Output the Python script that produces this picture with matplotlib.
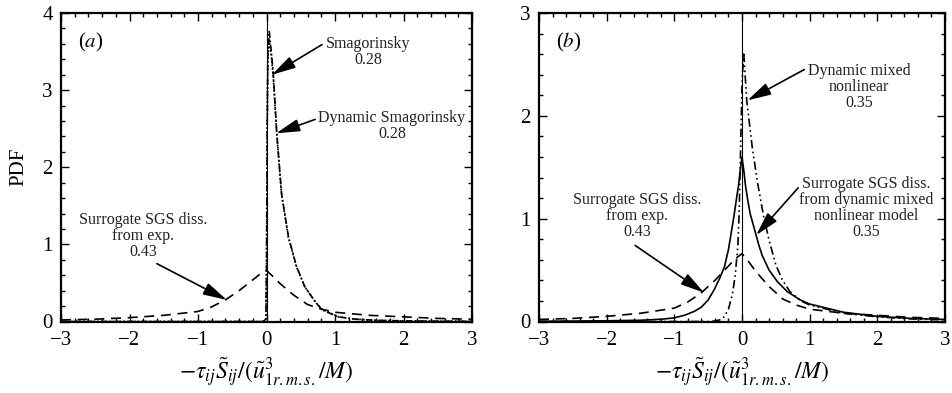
import matplotlib
matplotlib.use("Agg")
import matplotlib.pyplot as plt
from matplotlib.ticker import MultipleLocator

plt.rcParams['font.family'] = ['Liberation Serif', 'DejaVu Serif']
plt.rcParams['mathtext.fontset'] = 'stix'

# ---- data ----
exp_x = [-3, -2.5, -2, -1.5, -1, -0.8, -0.6, -0.4, -0.2, -0.1, 0, 0.1, 0.2, 0.4, 0.6, 0.8, 1.0, 1.5, 2, 2.5, 3]
exp_y = [0.02, 0.03, 0.05, 0.08, 0.13, 0.19, 0.28, 0.40, 0.54, 0.61, 0.66, 0.58, 0.49, 0.34, 0.22, 0.16, 0.12, 0.08, 0.06, 0.04, 0.03]

smag_x = [-3, -0.05, -0.01, 0.0, 0.01, 0.02, 0.04, 0.07, 0.10, 0.15, 0.22, 0.32, 0.44, 0.56, 0.70, 0.81, 1.05, 1.3, 1.6, 2.0, 2.5, 3]
smag_y = [0, 0, 0.03, 0.6, 2.5, 3.5, 3.76, 3.5, 3.2, 2.44, 1.66, 1.10, 0.71, 0.45, 0.27, 0.15, 0.06, 0.03, 0.015, 0.008, 0.004, 0.002]

dsmag_x = [-3, -0.05, -0.01, 0.0, 0.01, 0.02, 0.04, 0.07, 0.10, 0.15, 0.22, 0.32, 0.44, 0.56, 0.70, 0.81, 1.05, 1.3, 1.6, 2.0, 2.5, 3]
dsmag_y = [0, 0, 0.03, 0.7, 2.6, 3.4, 3.65, 3.45, 3.15, 2.42, 1.64, 1.09, 0.70, 0.45, 0.27, 0.16, 0.06, 0.03, 0.015, 0.008, 0.004, 0.002]

dmnl_x = [-3, -0.5, -0.4, -0.3, -0.26, -0.2, -0.14, -0.1, -0.06, -0.04, -0.02, 0.0, 0.025, 0.07, 0.15, 0.23, 0.32, 0.40, 0.5, 0.6, 0.71, 0.87, 1.0, 1.5, 2.0, 2.5, 3]
dmnl_y = [0, 0, 0.005, 0.02, 0.05, 0.12, 0.27, 0.45, 0.75, 1.1, 1.7, 2.3, 2.62, 2.15, 1.7, 1.35, 1.02, 0.79, 0.55, 0.40, 0.29, 0.20, 0.16, 0.08, 0.045, 0.025, 0.015]

sdm_x = [-3, -2.5, -2, -1.5, -1.2, -1.0, -0.84, -0.7, -0.6, -0.5, -0.41, -0.33, -0.26, -0.2, -0.16, -0.12, -0.08, -0.05, -0.03, 0,
         0.03, 0.05, 0.08, 0.12, 0.2, 0.25, 0.3, 0.4, 0.52, 0.67, 0.86, 1.0, 1.5, 2, 2.5, 3]
sdm_y = [0.002, 0.004, 0.007, 0.012, 0.022, 0.035, 0.063, 0.10, 0.14, 0.21, 0.31, 0.42, 0.53, 0.70, 0.86, 1.02, 1.2, 1.33, 1.45, 1.6,
         1.45, 1.33, 1.2, 1.05, 0.86, 0.74, 0.64, 0.50, 0.39, 0.29, 0.21, 0.17, 0.09, 0.05, 0.03, 0.02]

xticks = [-3, -2, -1, 0, 1, 2, 3]
yticks_a = [0, 1, 2, 3, 4]
yticks_b = [0, 1, 2, 3]

fig = plt.figure(figsize=(9.52, 3.93), dpi=100)
axa = fig.add_axes([61/952, 1-321.5/393, 411/952, 308.5/393])
axb = fig.add_axes([539/952, 1-321.5/393, 406/952, 308.5/393])

txtc = '#222222'
lw = 1.2

def style(ax, yt, ymax):
    ax.set_xlim(-3, 3)
    ax.set_ylim(0, ymax)
    ax.set_xticks(xticks)
    ax.set_xticklabels(['\u22123', '\u22122', '\u22121', '0', '1', '2', '3'])
    ax.set_yticks(yt)
    ax.xaxis.set_minor_locator(MultipleLocator(0.2))
    ax.yaxis.set_minor_locator(MultipleLocator(0.2))
    ax.tick_params(which='both', direction='in', top=True, right=True, labelsize=15, width=1.0)
    ax.tick_params(which='major', length=6)
    ax.tick_params(axis='x', which='major', pad=7)
    ax.tick_params(axis='y', which='major', pad=6)
    ax.tick_params(which='minor', length=3)
    for s in ax.spines.values():
        s.set_linewidth(1.6)
    ax.axvline(0, color='k', lw=0.8)
    ax.set_xlabel(r'$-\tau_{ij}\tilde{S}_{ij}/(\tilde{u}^3_{1r.m.s.}/M)$', fontsize=17, labelpad=4)

def arrow(ax, tip, start):
    ax.annotate('', xy=tip, xytext=start,
                arrowprops=dict(arrowstyle='-|>,head_length=1.45,head_width=0.38', color='k', lw=1.2,
                                shrinkA=0, shrinkB=0))

# panel (a)
axa.plot(exp_x, exp_y, color='k', lw=lw, dashes=(6, 4))
axa.plot(smag_x, smag_y, color='k', lw=lw, dashes=(4, 1.5, 1, 1.5))
axa.plot(dsmag_x, dsmag_y, color='k', lw=lw, dashes=(1, 1.2))
style(axa, yticks_a, 4)
axa.set_ylabel('PDF', fontsize=15, labelpad=10)
axa.text(-2.75, 3.62, r'($a$)', fontsize=15, ha='left', va='center')
axa.text(1.48, 3.50, 'Smagorinsky\n0.28', fontsize=11.5, ha='center', va='center', color=txtc, linespacing=1.0)
arrow(axa, (0.08, 3.2), (0.81, 3.59))
axa.text(1.83, 2.54, 'Dynamic Smagorinsky\n0.28', fontsize=11.5, ha='center', va='center', color=txtc, linespacing=1.0)
arrow(axa, (0.14, 2.44), (0.71, 2.62))
axa.text(-1.80, 1.11, 'Surrogate SGS diss.\nfrom exp.\n0.43', fontsize=11.5, ha='center', va='center', color=txtc, linespacing=1.0)
arrow(axa, (-0.58, 0.28), (-1.60, 0.75))

# panel (b)
axb.plot(exp_x, exp_y, color='k', lw=lw, dashes=(6, 4))
axb.plot(sdm_x, sdm_y, color='k', lw=lw)
axb.plot(dmnl_x, dmnl_y, color='k', lw=lw, dashes=(5, 2, 1, 2, 1, 2))
style(axb, yticks_b, 3)
axb.text(-2.75, 2.715, r'($b$)', fontsize=15, ha='left', va='center')
axb.text(1.73, 2.28, 'Dynamic mixed\nnonlinear\n0.35', fontsize=11.5, ha='center', va='center', color=txtc, linespacing=1.0)
arrow(axb, (0.08, 2.15), (0.92, 2.45))
axb.text(1.84, 1.10, 'Surrogate SGS diss.\nfrom dynamic mixed\nnonlinear model\n0.35', fontsize=11.5, ha='center', va='center', color=txtc, linespacing=1.0)
arrow(axb, (0.21, 0.84), (0.83, 1.30))
axb.text(-1.55, 1.03, 'Surrogate SGS diss.\nfrom exp.\n0.43', fontsize=11.5, ha='center', va='center', color=txtc, linespacing=1.0)
arrow(axb, (-0.56, 0.28), (-1.58, 0.74))

fig.savefig('out.png', dpi=100)
